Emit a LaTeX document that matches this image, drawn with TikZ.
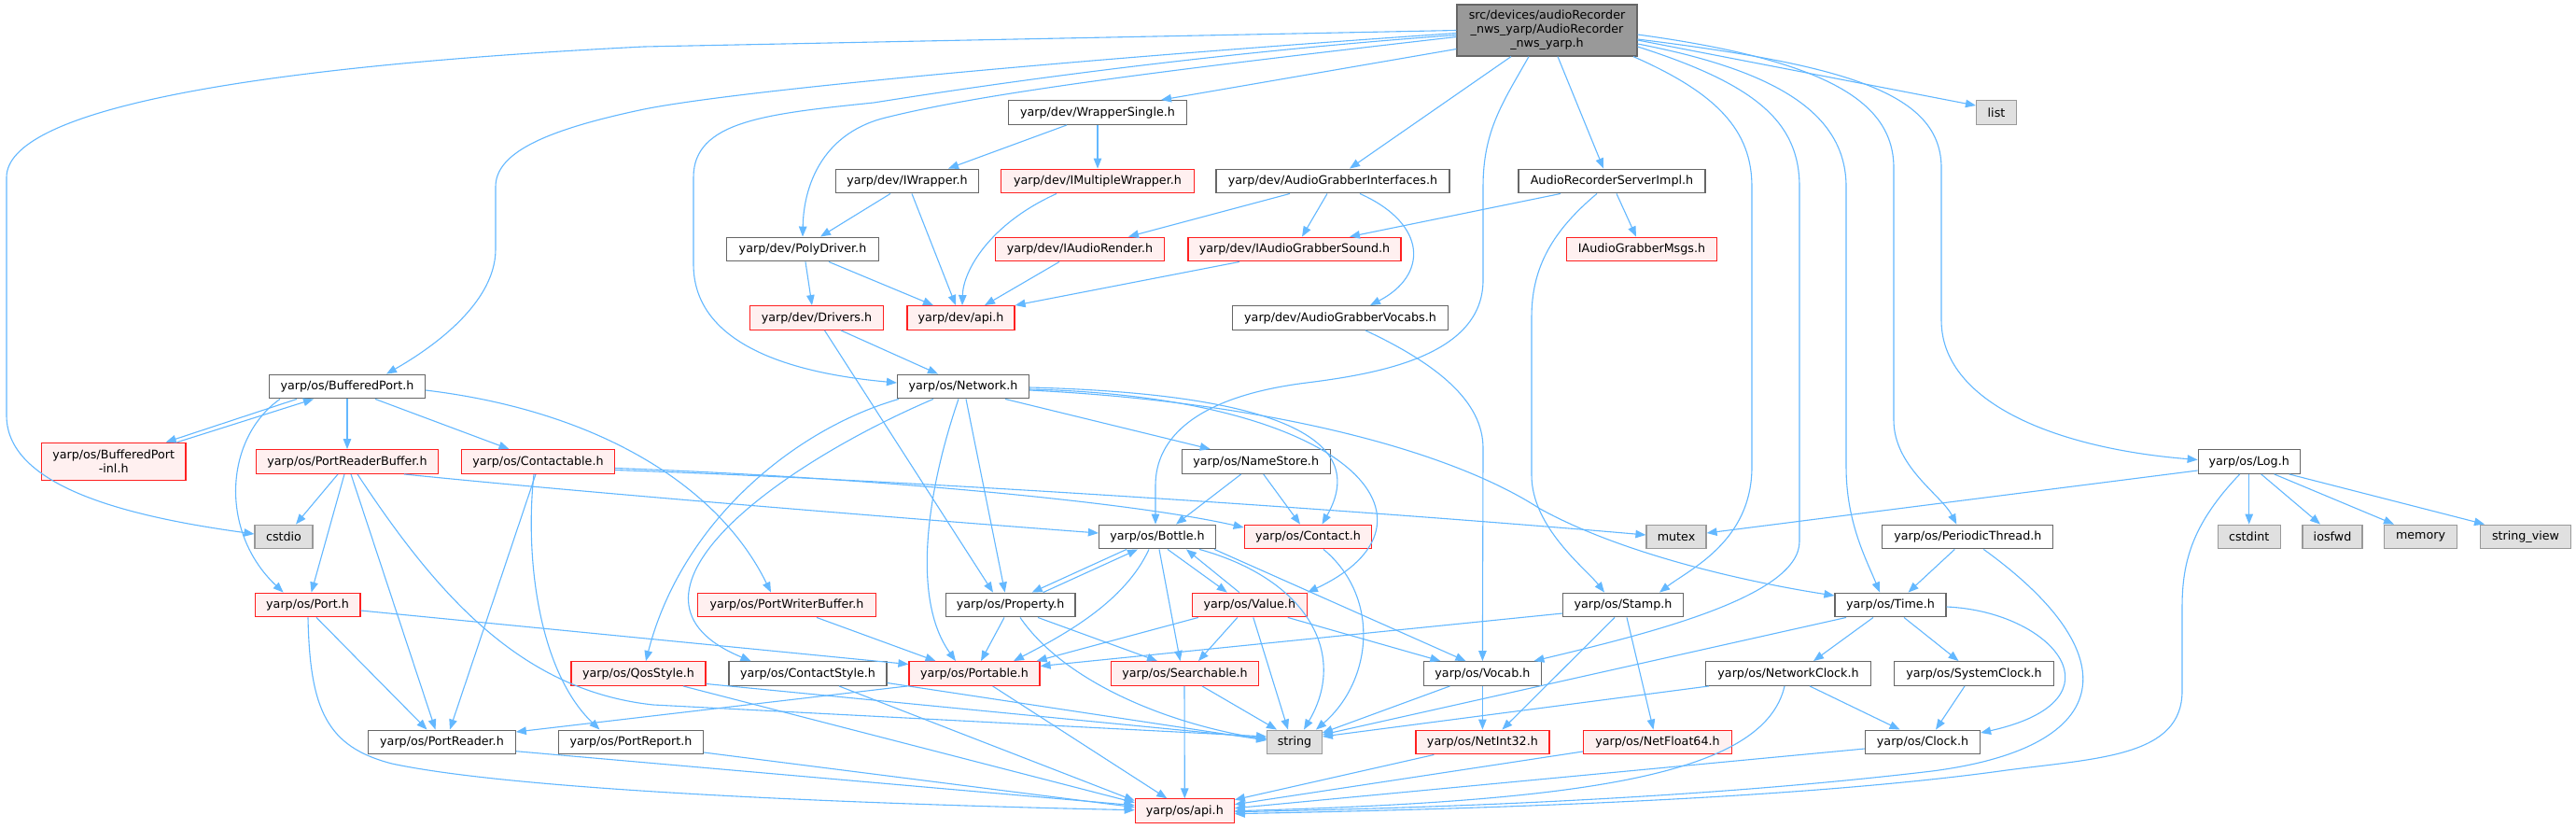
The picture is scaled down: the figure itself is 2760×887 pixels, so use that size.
\documentclass[tikz,border=0pt]{standalone}
\usepackage{fontspec}
\setmainfont{DejaVu Sans}
\usetikzlibrary{arrows.meta}
\definecolor{cedge}{HTML}{63B8FF}
\definecolor{cdark}{HTML}{666666}
\definecolor{cmid}{HTML}{999999}
\definecolor{cgray}{HTML}{E0E0E0}
\definecolor{cpink}{HTML}{FFF0F0}
\definecolor{cred}{HTML}{FF2020}
\tikzset{
 nbox/.style={draw, line width=1.2pt, minimum height=25.7pt, inner xsep=2pt, inner ysep=0pt, font=\fontsize{12.7}{15}\selectfont, text=black},
 pl/.style={nbox, draw=cdark, fill=white},
 rd/.style={nbox, draw=cred, fill=cpink},
 sy/.style={nbox, draw=cmid, fill=cgray},
 mn/.style={nbox, draw=cdark, fill=cmid, align=center},
 dep/.style={draw=cedge, line width=1.1pt, -{Triangle[length=11pt,width=8.5pt]}},
}
\begin{document}
\begin{tikzpicture}[x=1pt,y=-1pt]
\fill[white] (0,0) rectangle (2760,887);
\useasboundingbox (0,0) rectangle (2760,887);
% nodes
\node[mn, minimum width=193pt, minimum height=55pt] (main) at (1657.5,32.5) {src/devices/audioRecorder\\\_nws\_yarp/AudioRecorder\\\_nws\_yarp.h};
\node[pl, minimum width=191pt] (WrapperSingle) at (1176,120.5) {yarp/dev/WrapperSingle.h};
\node[sy, minimum width=43pt] (list) at (2139,120.5) {list};
\node[pl, minimum width=153.5pt] (IWrapper) at (972,194) {yarp/dev/IWrapper.h};
\node[rd, minimum width=207pt] (IMW) at (1176,194) {yarp/dev/IMultipleWrapper.h};
\node[pl, minimum width=250pt] (AGI) at (1428,194) {yarp/dev/AudioGrabberInterfaces.h};
\node[pl, minimum width=200pt] (ARSI) at (1727,194) {AudioRecorderServerImpl.h};
\node[pl, minimum width=163pt] (PolyDriver) at (860,267) {yarp/dev/PolyDriver.h};
\node[rd, minimum width=181pt] (IAR) at (1157,267) {yarp/dev/IAudioRender.h};
\node[rd, minimum width=228pt] (IAGS) at (1387,267) {yarp/dev/IAudioGrabberSound.h};
\node[rd, minimum width=161.5pt] (IAGM) at (1759,267) {IAudioGrabberMsgs.h};
\node[rd, minimum width=142.5pt] (Drivers) at (875,340.5) {yarp/dev/Drivers.h};
\node[rd, minimum width=115pt] (devapi) at (1029.5,340.5) {yarp/dev/api.h};
\node[pl, minimum width=230.5pt] (AGV) at (1436,340.5) {yarp/dev/AudioGrabberVocabs.h};
\node[pl, minimum width=167pt] (BP) at (372,414) {yarp/os/BufferedPort.h};
\node[pl, minimum width=141pt] (Network) at (1032,414) {yarp/os/Network.h};
\node[rd, minimum width=154.5pt, minimum height=40pt, align=center] (BPinl) at (121.7,494.3) {yarp/os/BufferedPort\\-inl.h};
\node[rd, minimum width=195.4pt] (PRB) at (372,494.5) {yarp/os/PortReaderBuffer.h};
\node[rd, minimum width=163.7pt] (Contactable) at (576.5,494.5) {yarp/os/Contactable.h};
\node[pl, minimum width=159pt] (NameStore) at (1345.7,494.5) {yarp/os/NameStore.h};
\node[pl, minimum width=109pt] (Log) at (2409.7,494.5) {yarp/os/Log.h};
\node[sy, minimum width=62pt] (cstdio) at (304,575) {cstdio};
\node[pl, minimum width=125pt] (Bottle) at (1240,575) {yarp/os/Bottle.h};
\node[rd, minimum width=136.5pt] (Contact) at (1401.5,575) {yarp/os/Contact.h};
\node[sy, minimum width=64pt] (mutex) at (1796,575) {mutex};
\node[pl, minimum width=183pt] (PT) at (2108.3,575) {yarp/os/PeriodicThread.h};
\node[sy, minimum width=67pt] (cstdint) at (2409.7,575) {cstdint};
\node[sy, minimum width=64pt] (iosfwd) at (2499,575) {iosfwd};
\node[sy, minimum width=78pt] (memory) at (2593.5,575) {memory};
\node[sy, minimum width=97.7pt] (sview) at (2706,575) {string\_view};
\node[rd, minimum width=112.7pt] (Port) at (329.6,648) {yarp/os/Port.h};
\node[rd, minimum width=191pt] (PWB) at (843,648) {yarp/os/PortWriterBuffer.h};
\node[pl, minimum width=138.6pt] (Property) at (1082.7,648) {yarp/os/Property.h};
\node[rd, minimum width=123pt] (Value) at (1338.8,648) {yarp/os/Value.h};
\node[pl, minimum width=128.5pt] (Stamp) at (1739,648) {yarp/os/Stamp.h};
\node[pl, minimum width=119pt] (Time) at (2025.5,648) {yarp/os/Time.h};
\node[rd, minimum width=144pt] (Qos) at (684,721.5) {yarp/os/QosStyle.h};
\node[pl, minimum width=169pt] (CStyle) at (865.5,721.5) {yarp/os/ContactStyle.h};
\node[rd, minimum width=140pt] (Portable) at (1044,721.5) {yarp/os/Portable.h};
\node[rd, minimum width=158.4pt] (Searchable) at (1269.5,721.5) {yarp/os/Searchable.h};
\node[pl, minimum width=125.4pt] (Vocab) at (1588.4,721.5) {yarp/os/Vocab.h};
\node[pl, minimum width=177pt] (NClock) at (1916,721.5) {yarp/os/NetworkClock.h};
\node[pl, minimum width=170.7pt] (SClock) at (2115,721.5) {yarp/os/SystemClock.h};
\node[pl, minimum width=157.5pt] (PortReader) at (473.5,795) {yarp/os/PortReader.h};
\node[pl, minimum width=155pt] (PortReport) at (676,795) {yarp/os/PortReport.h};
\node[sy, minimum width=58.5pt] (string) at (1387,795) {string};
\node[rd, minimum width=143pt] (NetInt32) at (1588.4,795) {yarp/os/NetInt32.h};
\node[rd, minimum width=159pt] (NetFloat64) at (1776,795) {yarp/os/NetFloat64.h};
\node[pl, minimum width=123pt] (Clock) at (2060,795) {yarp/os/Clock.h};
\node[rd, minimum width=106pt] (osapi) at (1269.3,868.7) {yarp/os/api.h};
% edges from main
\draw[dep] (main.west) -- (690,50) .. controls (250,72) and (7,120) .. (7,190) -- (7,445) .. controls (7,525) and (150,555) .. ([yshift=3]cstdio.west);
\draw[dep] ([yshift=-3]main.west) .. controls (1200,60) and (800,95) .. (690,117) .. controls (580,140) and (531,165) .. (531,200) -- (531,267) .. controls (531,330) and (450,380) .. ([xshift=42]BP.north);
\draw[dep] ([yshift=-5]main.west) .. controls (1250,60) and (1000,100) .. (936,110) .. controls (820,122) and (743,130) .. (743,190) -- (743,283) .. controls (743,370) and (850,400) .. ([yshift=4]Network.west);
\draw[dep] ([yshift=-7]main.west) .. controls (1250,75) and (1050,100) .. (945,127) .. controls (880,145) and (861,200) .. (PolyDriver.north);
\draw[dep] ([yshift=-20]main.west) -- ([xshift=68]WrapperSingle.north);
\draw[dep] ([xshift=-38.5]main.south) -- ([xshift=18]AGI.north);
\draw[dep] ([xshift=-19.5]main.south) .. controls (1610,110) and (1589,140) .. (1589,200) -- (1589,300) .. controls (1589,380) and (1480,400) .. (1400,410) .. controls (1280,425) and (1238,470) .. (1238,520) -- ([xshift=-2]Bottle.north);
\draw[dep] ([xshift=11.5]main.south) -- ([xshift=-9]ARSI.north);
\draw[dep] ([xshift=92.5]main.south) .. controls (1840,100) and (1877,140) .. (1877,200) -- (1877,500) .. controls (1877,580) and (1810,610) .. ([xshift=39]Stamp.north);
\draw[dep] ([yshift=-17.5]main.east) .. controls (1880,90) and (1928,130) .. (1928,200) -- (1928,580) .. controls (1928,640) and (1760,680) .. ([xshift=55]Vocab.north);
\draw[dep] ([yshift=-14.5]main.east) .. controls (1900,75) and (1978,120) .. (1978,200) -- (1978,500) .. controls (1978,560) and (2000,600) .. ([xshift=-11.5]Time.north);
\draw[dep] ([yshift=-4.5]main.east) .. controls (1960,65) and (2029,110) .. (2029,180) -- (2029,450) .. controls (2029,500) and (2080,530) .. ([xshift=-12]PT.north);
\draw[dep] ([yshift=-10.5]main.east) -- ([yshift=7.5]list.west);
\draw[dep] ([yshift=-9.5]main.east) .. controls (1980,70) and (2080,100) .. (2080,180) -- (2080,343) .. controls (2080,430) and (2200,480) .. ([yshift=2]Log.west);
% dev layer
\draw[dep] ([xshift=-33]WrapperSingle.south) -- ([xshift=44]IWrapper.north);
\draw[dep] (WrapperSingle.south) -- (IMW.north);
\draw[dep] ([xshift=-18]IWrapper.south) -- ([xshift=19]PolyDriver.north);
\draw[dep] ([xshift=5]IWrapper.south) -- ([xshift=-5.5]devapi.north);
\draw[dep] ([xshift=-44]IMW.south) .. controls (1060,240) and (1032,290) .. ([xshift=1.5]devapi.north);
\draw[dep] ([xshift=3]PolyDriver.south) -- ([xshift=-5]Drivers.north);
\draw[dep] ([xshift=28]PolyDriver.south) -- ([xshift=-29.5]devapi.north);
\draw[dep] ([xshift=-22]IAR.south) -- ([xshift=25.5]devapi.north);
\draw[dep] ([xshift=-59]IAGS.south) -- (devapi.north east);
\draw[dep] ([xshift=-46]AGI.south) -- ([xshift=52]IAR.north);
\draw[dep] ([xshift=-6]AGI.south) -- ([xshift=8]IAGS.north);
\draw[dep] ([xshift=29]AGI.south) .. controls (1530,240) and (1530,295) .. ([xshift=32]AGV.north);
\draw[dep] ([xshift=-55]ARSI.south) -- ([xshift=59]IAGS.north);
\draw[dep] ([xshift=5]ARSI.south) -- ([xshift=-6]IAGM.north);
\draw[dep] ([xshift=-16]ARSI.south) .. controls (1660,250) and (1641,290) .. (1641,340) -- (1641,509) .. controls (1641,565) and (1700,610) .. ([xshift=-20]Stamp.north);
\draw[dep] ([xshift=26]Drivers.south) -- ([xshift=-27]Network.north);
\draw[dep] ([xshift=8.5]Drivers.south) -- ([xshift=-18.7]Property.north);
\draw[dep] ([xshift=27]AGV.south) .. controls (1540,390) and (1589,430) .. (1589,480) -- (Vocab.north);
% BufferedPort
\draw[dep] ([xshift=-54]BP.south) -- ([xshift=56]BPinl.north);
\draw[dep] ([xshift=68]BPinl.north) -- ([xshift=-36]BP.south);
\draw[dep] (BP.south) -- (PRB.north);
\draw[dep] ([xshift=30]BP.south) -- ([xshift=-31]Contactable.north);
\draw[dep] ([yshift=-4]BP.east) .. controls (640,440) and (770,520) .. ([xshift=-17]PWB.north);
\draw[dep] ([xshift=-72]BP.south) .. controls (240,470) and (235,570) .. ([xshift=-26]Port.north);
% PortReaderBuffer
\draw[dep] ([xshift=-10]PRB.south) -- ([xshift=13]cstdio.north);
\draw[dep] ([xshift=-3]PRB.south) -- ([xshift=4]Port.north);
\draw[dep] ([xshift=4]PRB.south) -- ([xshift=-7]PortReader.north);
\draw[dep] ([xshift=11]PRB.south) .. controls (470,640) and (560,740) .. (700,755) -- ([yshift=6]string.west);
\draw[dep] ([xshift=61]PRB.south) .. controls (600,525) and (900,550) .. ([yshift=4]Bottle.west);
% Contactable
\draw[dep] ([xshift=-2.5]Contactable.south) -- ([xshift=8.5]PortReader.north);
\draw[dep] ([xshift=-4.5]Contactable.south) .. controls (562,600) and (578,720) .. ([xshift=-33.5]PortReport.north);
\draw[dep] ([yshift=-7]Contactable.east) .. controls (900,510) and (1200,535) .. ([yshift=10]Contact.west);
\draw[dep] ([yshift=-9]Contactable.east) .. controls (1000,515) and (1500,550) .. ([yshift=2]mutex.west);
% Port
\draw[dep] ([xshift=9.4]Port.south) -- ([xshift=-16]PortReader.north);
\draw[dep] ([yshift=-6]Port.east) -- ([yshift=10]Portable.west);
\draw[dep] ([xshift=0.4]Port.south) .. controls (332,760) and (350,800) .. (420,818) .. controls (560,848) and (950,862) .. ([yshift=1]osapi.west);
\draw[dep] ([xshift=32]PWB.south) -- ([xshift=-41.5]Portable.north);
% Property / Bottle / Value
\draw[dep] ([xshift=-6.7]Property.south) -- ([xshift=7]Portable.north);
\draw[dep] ([xshift=29.3]Property.south) -- ([xshift=-29.5]Searchable.north);
\draw[dep] ([xshift=10.3]Property.south) .. controls (1140,730) and (1250,775) .. ([yshift=3]string.west);
\draw[dep] ([xshift=35]Property.north) -- ([xshift=-21]Bottle.south);
\draw[dep] ([xshift=-33]Bottle.south) -- ([xshift=23]Property.north);
\draw[dep] ([xshift=-9]Bottle.south) .. controls (1205,645) and (1140,680) .. ([xshift=42]Portable.north);
\draw[dep] ([xshift=2]Bottle.south) -- ([xshift=-5]Searchable.north);
\draw[dep] ([xshift=11]Bottle.south) -- ([xshift=-24]Value.north);
\draw[dep] ([xshift=-11]Value.north) -- ([xshift=31]Bottle.south);
\draw[dep] ([xshift=-2]Bottle.south east) -- ([xshift=-18]Vocab.north);
\draw[dep] ([xshift=45]Bottle.south) .. controls (1400,620) and (1445,700) .. ([xshift=10]string.north);
\draw[dep] ([xshift=-55]Value.south) -- ([xshift=-4]Portable.north east);
\draw[dep] ([xshift=-13]Value.south) -- ([xshift=14.5]Searchable.north);
\draw[dep] ([xshift=4]Value.south) -- ([xshift=-7]string.north);
\draw[dep] ([xshift=41]Value.south) -- ([xshift=-45]Vocab.north);
\draw[dep] ([xshift=-16]NameStore.south) -- ([xshift=20]Bottle.north);
\draw[dep] ([xshift=8]NameStore.south) -- ([xshift=-8.5]Contact.north);
% Network
\draw[dep] ([xshift=-69]Network.south) .. controls (850,460) and (730,560) .. ([xshift=8]Qos.north);
\draw[dep] ([xshift=-32]Network.south) .. controls (830,500) and (640,640) .. ([xshift=-61]CStyle.north);
\draw[dep] ([xshift=-5]Network.south) .. controls (995,520) and (975,640) .. ([xshift=-20]Portable.north);
\draw[dep] ([xshift=3]Network.south) -- ([xshift=-6]Property.north);
\draw[dep] ([xshift=45]Network.south) -- ([xshift=-49]NameStore.north);
\draw[dep] ([yshift=-1]Network.east) .. controls (1300,420) and (1480,450) .. ([xshift=15]Contact.north);
\draw[dep] ([yshift=-3]Network.east) .. controls (1450,425) and (1560,560) .. (Value.north east);
\draw[dep] ([yshift=-4]Network.east) .. controls (1350,430) and (1550,480) .. (1650,545) .. controls (1750,600) and (1900,628) .. ([yshift=10]Time.west);
% lower layers
\draw[dep] ([xshift=-0.5]Searchable.south) -- (osapi.north);
\draw[dep] ([xshift=18.5]Searchable.south) -- ([xshift=-19]string.north);
\draw[dep] ([xshift=19.6]Portable.south) -- ([xshift=-19]osapi.north);
\draw[dep] ([xshift=-72]Portable.south) -- ([yshift=11]PortReader.east);
\draw[dep] ([xshift=48]Qos.south) -- ([yshift=9]osapi.west);
\draw[dep] ([yshift=-11]Qos.east) -- ([yshift=4]string.west);
\draw[dep] ([xshift=33.5]CStyle.south) -- ([yshift=11]osapi.west);
\draw[dep] ([yshift=-10]CStyle.east) -- ([yshift=2]string.west);
\draw[dep] ([yshift=-9.7]PortReader.east) -- ([yshift=6]osapi.west);
\draw[dep] ([yshift=-11]PortReport.east) -- ([yshift=4]osapi.west);
\draw[dep] ([xshift=16.5]Contact.south) .. controls (1480,640) and (1470,730) .. ([xshift=23]string.north);
\draw[dep] ([xshift=-35]Vocab.south) -- ([yshift=10]string.east);
\draw[dep] (Vocab.south) -- (NetInt32.north);
\draw[dep] ([yshift=-9]Stamp.west) -- ([yshift=8]Portable.east);
\draw[dep] ([xshift=-9]Stamp.south) -- ([xshift=21]NetInt32.north);
\draw[dep] ([xshift=4]Stamp.south) -- ([xshift=-4.5]NetFloat64.north);
\draw[dep] ([xshift=-47.5]Time.south) -- ([yshift=8]string.east);
\draw[dep] ([xshift=-18.5]Time.south) -- ([xshift=27]NClock.north);
\draw[dep] ([xshift=14.5]Time.south) -- ([xshift=-16.5]SClock.north);
\draw[dep] ([yshift=-2]Time.east) .. controls (2200,655) and (2280,750) .. ([yshift=10]Clock.east);
\draw[dep] ([xshift=-85]NClock.south) -- ([yshift=6]string.east);
\draw[dep] ([xshift=-4]NClock.south) .. controls (1890,830) and (1700,858) .. (osapi.east);
\draw[dep] ([xshift=23]NClock.south) -- ([xshift=-24.5]Clock.north);
\draw[dep] ([xshift=-10]SClock.south) -- ([xshift=14]Clock.north);
\draw[dep] ([yshift=-7]Clock.west) -- ([yshift=3]osapi.east);
\draw[dep] ([xshift=-52]NetInt32.south) -- ([yshift=12]osapi.east);
\draw[dep] ([yshift=-10]NetFloat64.west) -- ([yshift=7]osapi.east);
\draw[dep] ([xshift=-14]PT.south) -- ([xshift=19]Time.north);
\draw[dep] ([xshift=17]PT.south) .. controls (2280,700) and (2270,800) .. (2070,826) .. controls (1800,858) and (1500,866) .. ([yshift=-1]osapi.east);
% Log
\draw[dep] ([yshift=-9.5]Log.west) -- ([yshift=4]mutex.east);
\draw[dep] (Log.south) -- (cstdint.north);
\draw[dep] ([xshift=13]Log.south) -- ([xshift=-13]iosfwd.north);
\draw[dep] ([xshift=27]Log.south) -- ([xshift=-28.5]memory.north);
\draw[dep] ([xshift=43]Log.south) -- ([xshift=-44]sview.north);
\draw[dep] ([xshift=-10]Log.south) .. controls (2350,560) and (2338,600) .. (2338,650) -- (2338,740) .. controls (2338,810) and (2250,812) .. (2150,825) .. controls (1900,860) and (1500,868) .. ([yshift=-3]osapi.east);
\end{tikzpicture}
\end{document}
